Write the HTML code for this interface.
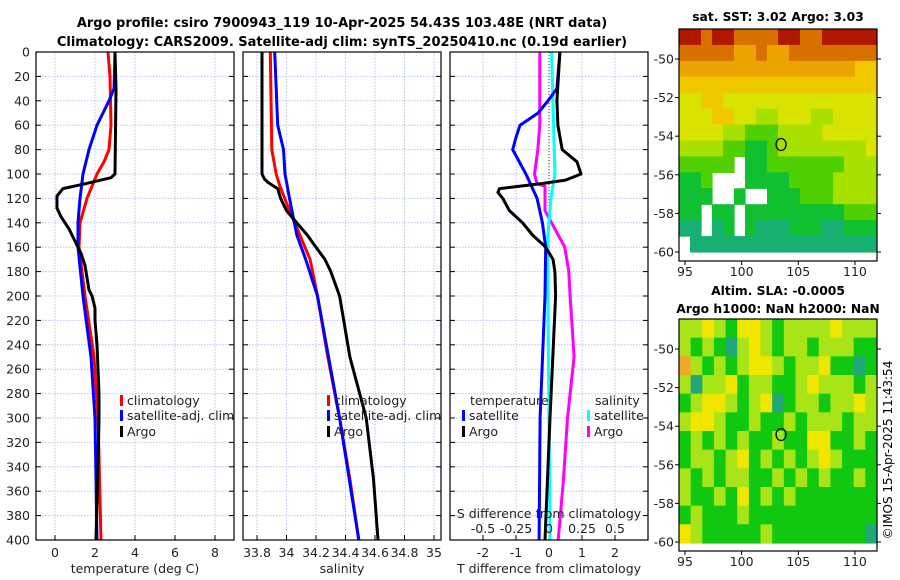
<!DOCTYPE html>
<html><head><meta charset="utf-8"><style>
body{margin:0;background:#fff;}
svg{display:block;font-family:"DejaVu Sans","Liberation Sans",sans-serif;}
</style></head><body>
<svg id="chart" width="900" height="580" viewBox="0 0 900 580" xmlns="http://www.w3.org/2000/svg">
<text x="342" y="27" text-anchor="middle" font-size="13" font-weight="bold">Argo profile: csiro 7900943_119 10-Apr-2025 54.43S 103.48E (NRT data)</text>
<text x="342" y="46" text-anchor="middle" font-size="13" font-weight="bold">Climatology: CARS2009. Satellite-adj clim: synTS_20250410.nc (0.19d earlier)</text>
<g id="panels"></g>
<g id="maps"></g>
<text transform="translate(892,450) rotate(-90)" text-anchor="middle" font-size="12">©IMOS 15-Apr-2025 11:43:54</text>
</svg>
<script>
// ---------- data ----------
const depthTicks=[0,20,40,60,80,100,120,140,160,180,200,220,240,260,280,300,320,340,360,380,400];
const tTicks=[0,2,4,6,8];
const sTicks=[33.8,34,34.2,34.4,34.6,34.8,35];
const tdTicks=[-2,-1,0,1,2];
const sdTicks=[-0.5,-0.25,0,0.25,0.5];
const sdTickLabels=['-0.5','-0.25','0','0.25','0.5'];

const argoTDepth=[0,30,100,103,108,112,118,128,135,145,155,165,175,185,195,200,210,220,240,260,280,300,340,400];
const argoTVal=[3.0,3.05,3.0,2.8,1.5,0.4,0.1,0.1,0.3,0.7,1.0,1.3,1.5,1.6,1.7,1.85,2.0,2.0,2.1,2.15,2.2,2.2,2.15,2.05];
const climTDepth=[0,20,60,80,90,100,110,120,140,160,200,250,300,400];
const climTVal=[2.65,2.75,2.8,2.7,2.45,2.1,1.85,1.6,1.25,1.2,1.5,1.95,2.15,2.3];
const satTDepth=[0,30,40,50,60,80,100,120,140,160,200,250,300,400];
const satTVal=[3.0,2.95,2.7,2.4,2.1,1.7,1.4,1.25,1.15,1.15,1.4,1.8,2.0,2.1];

const argoSDepth=[0,100,104,107,112,120,130,140,150,160,170,180,200,250,300,350,400];
const argoSVal=[33.834,33.834,33.85,33.875,33.94,33.96,34.0,34.07,34.14,34.2,34.26,34.3,34.36,34.43,34.54,34.59,34.62];
const climSDepth=[0,80,100,110,130,150,170,200,250,300,350,400];
const climSVal=[33.89,33.9,33.93,33.955,34.02,34.09,34.16,34.21,34.28,34.36,34.43,34.49];
const satSDepth=[0,60,80,100,120,150,170,200,300,400];
const satSVal=[33.92,33.94,33.98,33.99,34.02,34.07,34.13,34.21,34.36,34.49];

const dArgoTDepth=[0,40,60,80,90,100,105,108,112,115,120,130,140,150,160,170,180,200,300,400];
const dArgoTVal=[0.33,0.24,0.27,0.4,0.85,0.97,0.5,-0.27,-1.5,-1.55,-1.4,-1.2,-0.8,-0.5,-0.1,0.12,0.18,0.2,0.03,-0.12];
const dSatTDepth=[0,30,40,50,60,70,80,100,120,140,160,200,300,400];
const dSatTVal=[0.33,0.24,-0.03,-0.33,-0.88,-1.0,-1.1,-0.7,-0.36,-0.2,-0.1,-0.12,-0.27,-0.3];
const dArgoSDepth=[0,60,80,100,108,110,130,140,150,160,180,200,250,300,350,400];
const dArgoSVal=[-0.07,-0.07,-0.085,-0.11,-0.09,-0.03,-0.03,0.02,0.07,0.12,0.15,0.16,0.19,0.14,0.11,0.07];
const dSatSDepth=[0,100,120,150,200,300,400];
const dSatSVal=[0.02,0.045,0.015,-0.008,-0.008,0.0,0.008];

const latTicks=[-50,-52,-54,-56,-58,-60];
const lonTicks=[95,100,105,110];
const sstRows=[
"998998888998899999","888887787788888888","777777777777777766","666666666666666666",
"556655555555555555","555665544555445555","555544333444455555","444433223444444445",
"33333.223333333444","223...222233334444","222..2..2223334444","22.22.222222222333",
"11.12.211122211222",".11111111111111111"];
const slaRows=[
"22321332122223222","21210232122122211","42121233212231101","20223122112322212",
"12332123012212232","23321121121222122","12121211211331121","12212312121232111",
"21212211212121121","21121312121111111","12111211111111111","32111112111111110"];
const argoLon=103.48, argoLat=-54.43;

// ---------- helpers ----------
const NS='http://www.w3.org/2000/svg';
const root=document.getElementById('panels');
const mroot=document.getElementById('maps');
function mk(tag,attrs,parent){const e=document.createElementNS(NS,tag);for(const k in attrs)e.setAttribute(k,attrs[k]);(parent||root).appendChild(e);return e;}
const top0=52,bot0=540;
const yD=d=>top0+(bot0-top0)*d/400;

function panel(x0,x1,name){
  const g=mk('g',{});
  
  
  depthTicks.forEach(d=>{
    if(d>0&&d<400){const l=mk('line',{x1:x0,x2:x1,y1:yD(d),y2:yD(d),stroke:'#b8c4ee','stroke-width':1,'stroke-dasharray':'1.5,1.5'},g);
    }
    mk('line',{x1:x0,x2:x0+5,y1:yD(d),y2:yD(d),stroke:'#000'},g);
    mk('line',{x1:x1-5,x2:x1,y1:yD(d),y2:yD(d),stroke:'#000'},g);
  });
  return g;
}
function vgrid(g,xs){xs.forEach(x=>{
  const l=mk('line',{x1:x,x2:x,y1:top0,y2:bot0,stroke:'#b8c4ee','stroke-width':1,'stroke-dasharray':'1.5,1.5'},g);
  
  mk('line',{x1:x,x2:x,y1:bot0,y2:bot0-5,stroke:'#000'},g);
});}
function frame(g,x0,x1){const r=mk('rect',{x:x0,y:top0,width:x1-x0,height:bot0-top0,fill:'none',stroke:'#000','stroke-width':1.2},g);
 }
function line(g,depths,vals,xf,color,name){
  const pts=depths.map((d,i)=>xf(vals[i]).toFixed(1)+','+yD(d).toFixed(1)).join(' ');
  const p=mk('polyline',{points:pts,fill:'none',stroke:color,'stroke-width':3,'stroke-linejoin':'round'},g);
  
}
function txt(g,x,y,s,opts){const t=mk('text',Object.assign({x:x,y:y,'font-size':12.5,fill:'#222'},opts||{}),g);t.textContent=s;return t;}
function legend(g,x,y,color,label,name){
  const r=mk('rect',{x:x,y:y-10,width:3,height:11,fill:color},g);
  
  const t=txt(g,x+7,y,label);
}

// ---------- panel 1: temperature ----------
const xT=t=>55+20*t;
let g=panel(36,234,'temperature-panel');
vgrid(g,tTicks.map(xT));
line(g,climTDepth,climTVal,xT,'#ff0000','climatology-temp-line');
line(g,satTDepth,satTVal,xT,'#0000ff','satellite-temp-line');
line(g,argoTDepth,argoTVal,xT,'#000000','argo-temp-line');
frame(g,36,234);
depthTicks.forEach(d=>{const t=txt(g,30,yD(d)+4.5,String(d),{'text-anchor':'end'});});
tTicks.forEach(v=>{const t=txt(g,xT(v),557,String(v),{'text-anchor':'middle'});});
let at=txt(g,135,573,'temperature (deg C)',{'text-anchor':'middle'});
legend(g,120,405,'#ff0000','climatology','legend-climatology');
legend(g,120,420,'#0000ff','satellite-adj. clim','legend-satellite');
legend(g,120,436,'#000000','Argo','legend-argo');

// ---------- panel 2: salinity ----------
const xS=s=>257+(s-33.8)*147.5;
g=panel(243,441,'salinity-panel');
vgrid(g,sTicks.map(xS));
line(g,climSDepth,climSVal,xS,'#ff0000','climatology-sal-line');
line(g,satSDepth,satSVal,xS,'#0000ff','satellite-sal-line');
line(g,argoSDepth,argoSVal,xS,'#000000','argo-sal-line');
frame(g,243,441);
sTicks.forEach(v=>{const t=txt(g,xS(v),557,String(v),{'text-anchor':'middle'});});
at=txt(g,342,573,'salinity',{'text-anchor':'middle'});
legend(g,327,405,'#ff0000','climatology','legend-climatology');
legend(g,327,420,'#0000ff','satellite-adj. clim','legend-satellite');
legend(g,327,436,'#000000','Argo','legend-argo');

// ---------- panel 3: differences ----------
const xDT=t=>549+33*t;
const xDS=s=>549+132*s;
g=panel(450,648,'difference-panel');
vgrid(g,tdTicks.map(xDT));
mk('line',{x1:549,x2:549,y1:top0,y2:bot0,stroke:'#333','stroke-width':1,'stroke-dasharray':'1,2'},g);
line(g,dArgoSDepth,dArgoSVal,xDS,'#ff00ff','argo-sal-diff-line');
line(g,dSatSDepth,dSatSVal,xDS,'#00ffff','satellite-sal-diff-line');
line(g,dSatTDepth,dSatTVal,xDT,'#0000ff','satellite-temp-diff-line');
line(g,dArgoTDepth,dArgoTVal,xDT,'#000000','argo-temp-diff-line');
frame(g,450,648);
tdTicks.forEach(v=>{const t=txt(g,xDT(v),557,String(v),{'text-anchor':'middle'});});
sdTicks.forEach((v,i)=>{const t=txt(g,xDS(v),533,sdTickLabels[i],{'text-anchor':'middle'});});
at=txt(g,549,518,'S difference from climatology',{'text-anchor':'middle'});
at=txt(g,549,573,'T difference from climatology',{'text-anchor':'middle'});
at=txt(g,470,405,'temperature');
at=txt(g,595,405,'salinity');
legend(g,462,420,'#0000ff','satellite','legend-temp-satellite');
legend(g,462,436,'#000000','Argo','legend-temp-argo');
legend(g,587,420,'#00ffff','satellite','legend-sal-satellite');
legend(g,587,436,'#ff00ff','Argo','legend-sal-argo');

// ---------- maps ----------
const sstColors=['#10b878','#18b070','#10c030','#50d000','#a8e000','#d8e400','#f0c800','#eca400','#d87000','#b01800'];
const slaColors=['#20a878','#10c810','#a8e418','#f0e600','#f0a828'];
const xL=lon=>685+(lon-95)*11.33;
function map(top,lat50,lat60,bottom,rows,colors,name,cellBottom){
  const mg=mk('g',{},mroot);
  
  const yL=lat=>lat50+(lat60-lat50)*(lat+50)/(-10);
  const x0=679,x1=877,nR=rows.length,nC=rows[0].length;
  const cw=(x1-x0)/nC,ch=(cellBottom-top)/nR;
  rows.forEach((row,ri)=>{[...row].slice(0,nC).forEach((c,ci)=>{
    if(c==='.')return;
    const r=mk('rect',{x:(x0+ci*cw).toFixed(2),y:(top+ri*ch).toFixed(2),width:(Math.min(cw+0.6,x1-(x0+ci*cw))).toFixed(2),height:(ch+0.6).toFixed(2),fill:colors[+c]},mg);
    
  });});
  const f=mk('rect',{x:x0,y:top,width:x1-x0,height:bottom-top,fill:'none',stroke:'#000','stroke-width':1.2},mg);
  
  latTicks.forEach(l=>{const y=yL(l);
    mk('line',{x1:x0-4,x2:x0,y1:y,y2:y,stroke:'#000'},mg);mk('line',{x1:x1,x2:x1+4,y1:y,y2:y,stroke:'#000'},mg);
    const t=txt(mg,674,y+4.5,String(l),{'text-anchor':'end'});});
  lonTicks.forEach(l=>{const x=xL(l);
    mk('line',{x1:x,x2:x,y1:bottom,y2:bottom+4,stroke:'#000'},mg);
    const t=txt(mg,x,bottom+15,String(l),{'text-anchor':'middle'});});
  const m=mk('ellipse',{cx:xL(argoLon),cy:yL(argoLat),rx:5,ry:6,fill:'none',stroke:'#000','stroke-width':1.3},mg);
  
  return mg;
}
map(29,59,252,261,sstRows,sstColors,'sst-map',252);
map(319,349,542,551,slaRows,slaColors,'sla-map',543);
at=txt(mroot,778,21,'sat. SST: 3.02 Argo: 3.03',{'text-anchor':'middle','font-weight':'bold','fill':'#000','font-size':12.3});
at=txt(mroot,778,295,'Altim. SLA: -0.0005',{'text-anchor':'middle','font-weight':'bold','fill':'#000','font-size':12.3});
at=txt(mroot,778,313,'Argo h1000: NaN h2000: NaN',{'text-anchor':'middle','font-weight':'bold','fill':'#000','font-size':12.3});
</script>
</body></html>
